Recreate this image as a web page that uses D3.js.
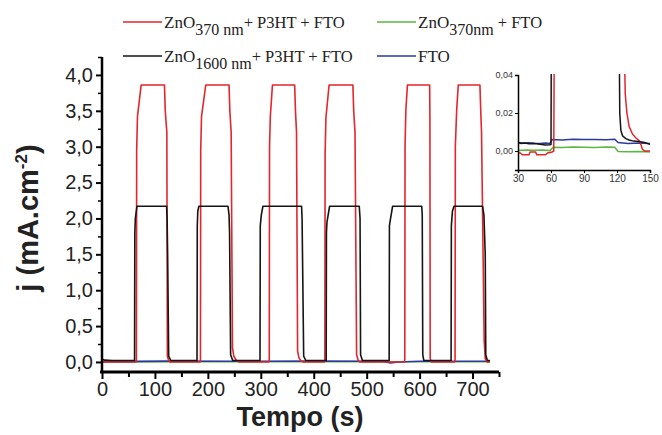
<!DOCTYPE html>
<html>
<head>
<meta charset="utf-8">
<script src="https://cdn.jsdelivr.net/npm/d3@7"></script>
<style>
  body { margin: 0; background: #fff; }
  svg { display: block; }
</style>
</head>
<body>
<script>
// valores (tempo em s, j em mA.cm-2)
const redT = [0, 64, 65, 65.5, 67, 74, 118, 119.5, 122.5, 123.5, 126, 128,
  185, 186, 186.5, 188, 196, 240, 241.5, 244, 246.5, 249, 254, 258,
  315, 316, 316.5, 318, 322, 364, 365.5, 367.5, 369.5, 372, 376, 380,
  420, 421, 421.5, 423, 429, 474, 475.5, 478, 481, 484, 487,
  571, 572, 572.5, 574, 577, 619, 619.5, 620, 622,
  666, 667, 667.5, 670, 673, 714, 715.5, 717, 722, 724, 727, 733];
const redJ = [0, 0, 0.03, 2.95, 3.42, 3.86, 3.86, 3.5, 3.2, 0.08, 0.02, 0,
  0, 0.03, 2.95, 3.42, 3.86, 3.86, 3.5, 3.2, 0.2, 0.08, 0.02, 0,
  0, 0.03, 3.0, 3.42, 3.86, 3.86, 3.5, 3.2, 0.15, 0.06, 0.01, 0,
  0, 0.03, 2.9, 3.4, 3.86, 3.86, 3.5, 3.2, 0.1, 0.02, 0,
  0, 0.03, 3.0, 3.5, 3.86, 3.86, 3.4, 0.05, 0,
  0, 0.03, 3.0, 3.5, 3.86, 3.86, 3.5, 3.2, 0.3, 0.05, 0, 0];

const blackT = [0, 5, 20, 55, 61.5, 62, 63, 66, 122, 123, 124, 126, 130,
  179.5, 180, 181, 183, 238, 240, 241, 243, 247,
  298.5, 299, 301, 304, 377, 378, 381, 385,
  423.5, 424, 425, 430, 486, 487.5, 488.5, 492,
  542.5, 543, 544, 549, 604, 605, 606, 608,
  659.5, 660, 662, 665, 719, 721.5, 724, 725, 728, 733];
const blackJ = [0.04, 0.025, 0.02, 0.02, 0.02, 1.8, 2.0, 2.17, 2.17, 2.0, 1.5, 0.08, 0.02,
  0.02, 1.9, 2.1, 2.17, 2.17, 2.05, 1.8, 0.1, 0.02,
  0.02, 1.9, 2.05, 2.17, 2.17, 2.0, 0.08, 0.02,
  0.02, 1.8, 1.95, 2.17, 2.17, 2.0, 0.1, 0.02,
  0.02, 1.9, 1.95, 2.17, 2.17, 2.05, 0.1, 0.02,
  0.02, 1.9, 2.1, 2.17, 2.17, 2.05, 1.5, 0.1, 0.02, 0.02];

const blueT = [0, 60, 120, 250, 400, 530, 545, 560, 600, 733];
const blueJ = [0.005, 0.008, 0.012, 0.01, 0.012, 0.01, -0.015, 0.0, 0.01, 0.01];

const greenT = [0, 200, 400, 600, 733];
const greenJ = [0.0, 0.002, 0.003, 0.002, 0.002];

// detalhe (inset), 30-150 s
const inRedT = [30, 32, 34, 40, 41, 46, 47, 55, 57, 61, 62.5, 63,
  126.5, 127.5, 129, 131, 134, 137, 140, 142, 143, 145, 150];
const inRedJ = [-0.001, -0.001, -0.002, -0.002, -0.0005, -0.0005, -0.002, -0.002, -0.001, -0.0005, 0.0, 0.06,
  0.06, 0.03, 0.02, 0.013, 0.009, 0.007, 0.0055, 0.003, 0.001, 0.0, 0.0];
const inBlackT = [30, 33, 36, 40, 45, 50, 55, 59, 60, 60.3,
  122, 122.5, 123.5, 125, 128, 131, 135, 140, 145, 150];
const inBlackJ = [0.0045, 0.004, 0.0042, 0.0038, 0.004, 0.0035, 0.0032, 0.0033, 0.0035, 0.06,
  0.06, 0.02, 0.011, 0.008, 0.0065, 0.0058, 0.0052, 0.005, 0.0045, 0.0035];
const inBlueT = [30, 35, 40, 45, 50, 55, 59, 61, 70, 80, 90, 100, 110, 118, 121, 130, 140, 150];
const inBlueJ = [0.0045, 0.0042, 0.0043, 0.0041, 0.004, 0.0042, 0.004, 0.006, 0.0058, 0.0062, 0.006, 0.0061, 0.0059, 0.0062, 0.0045, 0.004, 0.0042, 0.004];
const inGreenT = [30, 38, 45, 52, 59, 62, 70, 80, 90, 100, 110, 118, 121, 130, 140, 150];
const inGreenJ = [0.0003, 0.0005, 0.0004, 0.0005, 0.0002, 0.002, 0.0018, 0.0021, 0.002, 0.0019, 0.0021, 0.002, -0.0003, -0.0004, -0.0003, -0.0005];

const xTicks = [0, 100, 200, 300, 400, 500, 600, 700];
const yTicks = [0, 0.5, 1.0, 1.5, 2.0, 2.5, 3.0, 3.5, 4.0];
const inXTicks = [30, 60, 90, 120, 150];
const inYTicks = [0, 0.02, 0.04];

const colors = { red: "#e3262b", black: "#151515", blue: "#2d3a9c", green: "#5ab73f" };

const width = 662;
const height = 435;

const svg = d3.select("body").append("svg")
  .attr("width", width)
  .attr("height", height);

const comma = (d, n) => d3.format("." + n + "f")(d).replace(".", ",");

// escalas do gráfico principal
const x = d3.scaleLinear().domain([0, 750]).range([102, 499]);
const y = d3.scaleLinear().domain([-0.14, 4.25]).range([372, 57]);

const line = d3.line().x(d => x(d[0])).y(d => y(d[1]));
const zip = (a, b) => a.map((t, i) => [t, b[i]]);

const series = [
  [greenT, greenJ, colors.green],
  [blueT, blueJ, colors.blue],
  [redT, redJ, colors.red],
  [blackT, blackJ, colors.black]
];
series.forEach(s => {
  svg.append("path")
    .datum(zip(s[0], s[1]))
    .attr("fill", "none")
    .attr("stroke", s[2])
    .attr("stroke-width", 1.6)
    .attr("stroke-linejoin", "round")
    .attr("d", line);
});

// eixos
const xAxis = svg.append("g")
  .attr("transform", "translate(0,372)")
  .call(d3.axisBottom(x).tickValues(xTicks).tickSize(7).tickPadding(3).tickFormat(d => d));
xAxis.select(".domain").attr("stroke-width", 3).attr("d", "M100,0H499");
xAxis.selectAll(".tick line").attr("stroke-width", 2);
xAxis.selectAll("text").attr("font-family", "Liberation Sans, Arial, sans-serif").attr("font-size", 20).attr("fill", "#222");
svg.append("g")
  .attr("transform", "translate(0,372)")
  .call(d3.axisBottom(x).tickValues(xTicks.map(d => d + 50)).tickSize(5).tickFormat(""))
  .call(g => g.select(".domain").remove())
  .selectAll("line").attr("stroke-width", 2);

const yAxis = svg.append("g")
  .attr("transform", "translate(102,0)")
  .call(d3.axisLeft(y).tickValues(yTicks).tickSize(6).tickPadding(3).tickFormat(d => comma(d, 1)));
yAxis.select(".domain").attr("stroke-width", 2.5).attr("d", "M0,57V373");
yAxis.selectAll(".tick line").attr("stroke-width", 2);
yAxis.selectAll("text").attr("font-family", "Liberation Sans, Arial, sans-serif").attr("font-size", 20).attr("fill", "#222");
svg.append("g")
  .attr("transform", "translate(102,0)")
  .call(d3.axisLeft(y).tickValues(yTicks.map(d => d + 0.25)).tickSize(4).tickFormat(""))
  .call(g => g.select(".domain").remove())
  .selectAll("line").attr("stroke-width", 1.5);

// títulos dos eixos
svg.append("text")
  .attr("x", 300).attr("y", 426)
  .attr("text-anchor", "middle")
  .attr("font-family", "Liberation Sans, Arial, sans-serif")
  .attr("font-weight", "bold").attr("font-size", 27).attr("fill", "#222")
  .text("Tempo (s)");

const yt = svg.append("text")
  .attr("transform", "translate(38,218) rotate(-90)")
  .attr("text-anchor", "middle")
  .attr("font-family", "Liberation Sans, Arial, sans-serif")
  .attr("font-weight", "bold").attr("font-size", 29).attr("fill", "#222");
yt.append("tspan").text("j (mA.cm");
yt.append("tspan").attr("font-size", 17).attr("dy", -11).text("-2");
yt.append("tspan").attr("dy", 11).text(")");

// legenda
const legend = [
  { c: colors.red, x: 123, y: 22, main: "ZnO", sub: "370 nm", rest: "+ P3HT + FTO" },
  { c: colors.green, x: 377, y: 22, main: "ZnO", sub: "370nm", rest: " + FTO" },
  { c: colors.black, x: 123, y: 56, main: "ZnO", sub: "1600 nm", rest: "+ P3HT + FTO" },
  { c: colors.blue, x: 377, y: 56, main: "FTO", sub: "", rest: "" }
];
legend.forEach(l => {
  svg.append("line")
    .attr("x1", l.x).attr("x2", l.x + 39)
    .attr("y1", l.y).attr("y2", l.y)
    .attr("stroke", l.c).attr("stroke-width", 1.6);
  const t = svg.append("text")
    .attr("x", l.x + 41).attr("y", l.y + 6)
    .attr("font-family", "Liberation Serif, Times New Roman, serif")
    .attr("fill", "#222");
  t.append("tspan").attr("font-size", 17).text(l.main);
  if (l.sub) {
    t.append("tspan").attr("font-size", 16).attr("dy", 7).text(l.sub);
    t.append("tspan").attr("font-size", 16.5).attr("dy", -7).text(l.rest);
  }
});

// inset
const ix = d3.scaleLinear().domain([30, 150]).range([518, 650]);
const iy = d3.scaleLinear().domain([-0.01, 0.04]).range([170, 75]);

svg.append("clipPath").attr("id", "inclip")
  .append("rect").attr("x", 518).attr("y", 74).attr("width", 134).attr("height", 96);

const iline = d3.line().x(d => ix(d[0])).y(d => iy(d[1]));
const inset = svg.append("g").attr("clip-path", "url(#inclip)");
[
  [inGreenT, inGreenJ, colors.green],
  [inBlueT, inBlueJ, colors.blue],
  [inRedT, inRedJ, colors.red],
  [inBlackT, inBlackJ, colors.black]
].forEach(s => {
  inset.append("path")
    .datum(zip(s[0], s[1]))
    .attr("fill", "none")
    .attr("stroke", s[2])
    .attr("stroke-width", 1.5)
    .attr("d", iline);
});

const ixAxis = svg.append("g")
  .attr("transform", "translate(0,170)")
  .call(d3.axisBottom(ix).tickValues(inXTicks).tickSize(3).tickPadding(2).tickFormat(d => d));
ixAxis.select(".domain").attr("stroke-width", 1.5);
ixAxis.selectAll("text").attr("font-family", "Liberation Sans, Arial, sans-serif").attr("font-size", 10).attr("fill", "#333");

const iyAxis = svg.append("g")
  .attr("transform", "translate(518,0)")
  .call(d3.axisLeft(iy).tickValues(inYTicks).tickSize(3).tickPadding(2).tickFormat(d => comma(d, 2)));
iyAxis.select(".domain").attr("stroke-width", 1.5);
iyAxis.selectAll("text").attr("font-family", "Liberation Sans, Arial, sans-serif").attr("font-size", 9).attr("fill", "#333");
</script>
</body>
</html>
